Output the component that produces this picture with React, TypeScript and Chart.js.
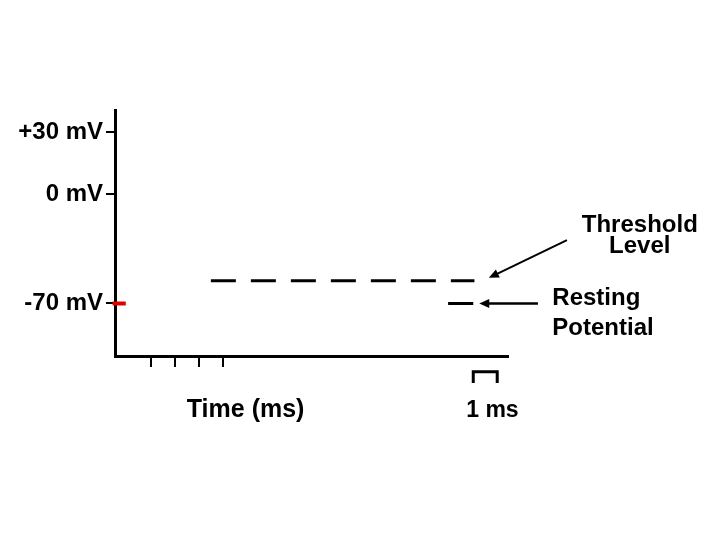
import React, { useEffect, useRef } from 'react';
import { Chart, registerables } from 'chart.js';

Chart.register(...registerables);

// Schematic membrane-potential diagram (not to scale)
const yTickValues = [30, 0, -53];
const yTickLabels = ['+30 mV', '0 mV', '-70 mV'];
const xTickValues = [0, 1, 2, 3];
const xRange = [-1.5, 14.9];
const yRange = [-78.4, 40.6];

const thresholdLevel = -42;
const restingLevel = -53;
const thresholdX = [2.5, 13.5];
const restingX = [12.4, 13.45];
const restingMarkX = [-1.6, -1.05];
const scaleBarX = [13.45, 14.45];
const scaleBarY = [-86, -91.5];

// annotation anchors in data units
const arrowThresholdFrom = [17.36, -22.3];
const arrowThresholdTo = [14.1, -40.6];
const arrowRestingFrom = [16.15, -53];
const arrowRestingTo = [13.7, -53];

const annotationTexts = ['Threshold', 'Level', 'Resting', 'Potential', 'Time (ms)', '1 ms'];
const annotationX = [20.4, 20.4, 16.75, 16.75, 3.95, 14.25];
const annotationY = [-18.4, -28.5, -53.7, -68.2, -107.9, -107.9];
const annotationAlign = ['center', 'center', 'left', 'left', 'center', 'center'];
const annotationSize = [24, 24, 24, 24, 25, 23];

const FONT = '"Liberation Sans", Arial, sans-serif';

function drawArrow(ctx: CanvasRenderingContext2D, x1: number, y1: number, x2: number, y2: number, lw: number) {
  const ang = Math.atan2(y2 - y1, x2 - x1);
  const head = 10;
  const half = 4.5;
  ctx.lineWidth = lw;
  ctx.beginPath();
  ctx.moveTo(x1, y1);
  ctx.lineTo(x2 - Math.cos(ang) * head * 0.8, y2 - Math.sin(ang) * head * 0.8);
  ctx.stroke();
  ctx.beginPath();
  ctx.moveTo(x2, y2);
  ctx.lineTo(x2 - Math.cos(ang) * head - Math.sin(ang) * half, y2 - Math.sin(ang) * head + Math.cos(ang) * half);
  ctx.lineTo(x2 - Math.cos(ang) * head + Math.sin(ang) * half, y2 - Math.sin(ang) * head - Math.cos(ang) * half);
  ctx.closePath();
  ctx.fill();
}

const annotationPlugin = {
  id: 'diagramAnnotations',
  afterDatasetsDraw(chart: any) {
    const { ctx } = chart;
    const xs = chart.scales.x;
    const ys = chart.scales.y;
    const px = (v: number) => xs.getPixelForValue(v);
    const py = (v: number) => ys.getPixelForValue(v);
    ctx.save();
    ctx.strokeStyle = '#000';
    ctx.fillStyle = '#000';
    drawArrow(ctx, px(arrowThresholdFrom[0]), py(arrowThresholdFrom[1]), px(arrowThresholdTo[0]), py(arrowThresholdTo[1]), 2);
    drawArrow(ctx, px(arrowRestingFrom[0]), py(arrowRestingFrom[1]), px(arrowRestingTo[0]), py(arrowRestingTo[1]), 2.5);

    // 1 ms scale bar
    ctx.lineWidth = 3;
    ctx.lineCap = 'butt';
    ctx.lineJoin = 'miter';
    ctx.beginPath();
    ctx.moveTo(px(scaleBarX[0]), py(scaleBarY[1]));
    ctx.lineTo(px(scaleBarX[0]), py(scaleBarY[0]));
    ctx.lineTo(px(scaleBarX[1]), py(scaleBarY[0]));
    ctx.lineTo(px(scaleBarX[1]), py(scaleBarY[1]));
    ctx.stroke();

    ctx.textBaseline = 'alphabetic';
    annotationTexts.forEach((t, i) => {
      ctx.font = `bold ${annotationSize[i]}px ${FONT}`;
      ctx.textAlign = annotationAlign[i];
      ctx.fillText(t, px(annotationX[i]), py(annotationY[i]));
    });
    ctx.restore();
  },
};

export default function App() {
  const ref = useRef<HTMLCanvasElement>(null);
  useEffect(() => {
    const chart = new Chart(ref.current as HTMLCanvasElement, {
      type: 'line',
      data: {
        datasets: [
          {
            label: 'Threshold',
            data: thresholdX.map((x) => ({ x, y: thresholdLevel })),
            borderColor: '#000',
            borderWidth: 3,
            borderDash: [25, 15],
            pointRadius: 0,
          },
          {
            label: 'Resting',
            data: restingX.map((x) => ({ x, y: restingLevel })),
            borderColor: '#000',
            borderWidth: 3,
            pointRadius: 0,
          },
          {
            label: 'Resting mark',
            data: restingMarkX.map((x) => ({ x, y: restingLevel })),
            borderColor: '#e00000',
            borderWidth: 4,
            pointRadius: 0,
            clip: false,
          },
        ],
      },
      options: {
        responsive: false,
        animation: false,
        events: [],
        layout: { padding: { left: 0, top: 110, right: 212, bottom: 164 } },
        plugins: { legend: { display: false }, tooltip: { enabled: false }, title: { display: false } },
        scales: {
          x: {
            type: 'linear',
            min: xRange[0],
            max: xRange[1],
            afterBuildTicks: (s: any) => {
              s.ticks = xTickValues.map((value) => ({ value }));
            },
            afterFit: (s: any) => {
              s.height = 20;
            },
            grid: { drawOnChartArea: false, drawTicks: true, tickLength: 11, lineWidth: 2, color: '#000' },
            border: { display: true, color: '#000', width: 3 },
            ticks: { display: false },
          },
          y: {
            type: 'linear',
            min: yRange[0],
            max: yRange[1],
            afterBuildTicks: (s: any) => {
              s.ticks = yTickValues.map((value) => ({ value }));
            },
            afterFit: (s: any) => {
              s.width = 115;
            },
            grid: { drawOnChartArea: false, drawTicks: true, tickLength: 9, lineWidth: 2, color: '#000' },
            border: { display: true, color: '#000', width: 3 },
            ticks: {
              autoSkip: false,
              padding: 3,
              color: '#000',
              font: { family: FONT, size: 24, weight: 'bold' },
              callback: (v: any) => {
                const i = yTickValues.indexOf(Number(v));
                return i >= 0 ? yTickLabels[i] : '';
              },
            },
          },
        },
      },
      plugins: [annotationPlugin],
    } as any);
    return () => chart.destroy();
  }, []);
  return (
    <div style={{ position: 'fixed', left: 0, top: 0, width: 720, height: 540, background: '#fff' }}>
      <canvas ref={ref} width={720} height={540} style={{ width: 720, height: 540, display: 'block' }} />
    </div>
  );
}
